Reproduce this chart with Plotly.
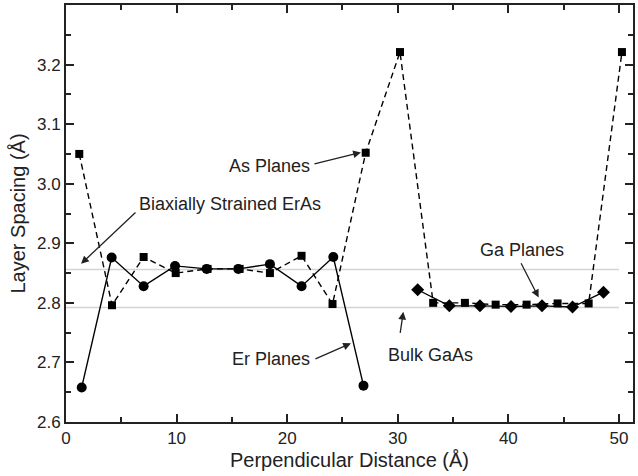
import plotly.graph_objects as go

# As planes (squares, dashed)
as_x = [1.2, 4.16, 7.02, 9.92, 12.8, 15.7, 18.44, 21.3, 24.1, 27.1, 30.2,
        33.2, 36.07, 38.85, 41.65, 44.45, 47.26, 50.27]
as_y = [3.050, 2.796, 2.877, 2.850, 2.857, 2.857, 2.850, 2.879, 2.798, 3.052, 3.221,
        2.800, 2.800, 2.797, 2.797, 2.799, 2.799, 3.221]

# Er planes (circles, solid)
er_x = [1.42, 4.13, 7.02, 9.86, 12.72, 15.58, 18.44, 21.3, 24.17, 26.9]
er_y = [2.658, 2.876, 2.828, 2.862, 2.857, 2.857, 2.865, 2.828, 2.877, 2.661]

# Ga planes (diamonds, solid)
ga_x = [31.8, 34.66, 37.43, 40.24, 43.04, 45.8, 48.6]
ga_y = [2.822, 2.795, 2.795, 2.794, 2.795, 2.793, 2.818]

# Reference levels
ref_x = [0, 50]
erAs_level = 2.856
gaAs_level = 2.792

x_ticks = [0, 10, 20, 30, 40, 50]
y_ticks = [2.6, 2.7, 2.8, 2.9, 3.0, 3.1, 3.2]

FONT = "Liberation Sans, Arial, sans-serif"

fig = go.Figure()
for lvl in (erAs_level, gaAs_level):
    fig.add_trace(go.Scatter(x=ref_x, y=[lvl, lvl], mode="lines",
                             line=dict(color="#d4d4d4", width=1.5),
                             hoverinfo="skip", showlegend=False))

fig.add_trace(go.Scatter(x=as_x, y=as_y, mode="lines+markers",
                         line=dict(color="black", width=1.4, dash="6px,4px"),
                         marker=dict(symbol="square", size=8, color="black"),
                         showlegend=False))
fig.add_trace(go.Scatter(x=er_x, y=er_y, mode="lines+markers",
                         line=dict(color="black", width=1.4),
                         marker=dict(symbol="circle", size=10, color="black"),
                         showlegend=False))
fig.add_trace(go.Scatter(x=ga_x, y=ga_y, mode="lines+markers",
                         line=dict(color="black", width=1.4),
                         marker=dict(symbol="diamond", size=10, color="black"),
                         showlegend=False))

ann_font = dict(family=FONT, size=18, color="#222")

def arrow(tx, ty, hx, hy):
    fig.add_annotation(x=hx, y=hy, ax=tx, ay=ty, axref="x", ayref="y",
                       xref="x", yref="y", text="", showarrow=True,
                       arrowhead=2, arrowsize=1.2, arrowwidth=1.3,
                       arrowcolor="#222", standoff=0, startstandoff=0)

def label(x, y, text, xanchor):
    fig.add_annotation(x=x, y=y, xref="x", yref="y", text=text, showarrow=False,
                       xanchor=xanchor, yanchor="middle", font=ann_font)

label(22.2, 3.030, "As Planes", "right")
arrow(22.33, 3.0325, 26.67, 3.0526)

label(6.45, 2.966, "Biaxially Strained ErAs", "left")
arrow(6.42, 2.954, 1.36, 2.8655)

label(22.2, 2.705, "Er Planes", "right")
arrow(22.42, 2.705, 25.77, 2.732)

label(32.96, 2.713, "Bulk GaAs", "center")
arrow(30.2, 2.747, 30.5, 2.785)

label(41.27, 2.889, "Ga Planes", "center")
arrow(41.08, 2.869, 42.74, 2.809)

axis_common = dict(showgrid=False, zeroline=False, showline=True, linecolor="#222",
                   linewidth=2, mirror="allticks", ticks="inside", ticklen=8,
                   tickwidth=1.5, tickcolor="#222",
                   tickfont=dict(family=FONT, size=17, color="#222"))

fig.update_xaxes(range=[0, 51.27], tickvals=x_ticks,
                 minor=dict(ticks="inside", ticklen=5, tickwidth=1.5, dtick=5, tick0=0,
                            tickcolor="#222"),
                 title=dict(text="Perpendicular Distance (Å)",
                            font=dict(family=FONT, size=20, color="#222"), standoff=6),
                 **axis_common)
fig.update_yaxes(range=[2.6, 3.3], tickvals=y_ticks, tickformat=".1f",
                 minor=dict(ticks="inside", ticklen=5, tickwidth=1.5, dtick=0.05, tick0=2.6,
                            tickcolor="#222"),
                 title=dict(text="Layer Spacing (Å)",
                            font=dict(family=FONT, size=20, color="#222"), standoff=6),
                 **axis_common)

fig.update_layout(width=638, height=476, plot_bgcolor="white", paper_bgcolor="white",
                  margin=dict(l=66, r=5, t=3, b=54))

fig.write_html("out.html", config={"displayModeBar": False},
               post_script="document.body.style.margin='0';document.body.style.overflow='hidden';")
